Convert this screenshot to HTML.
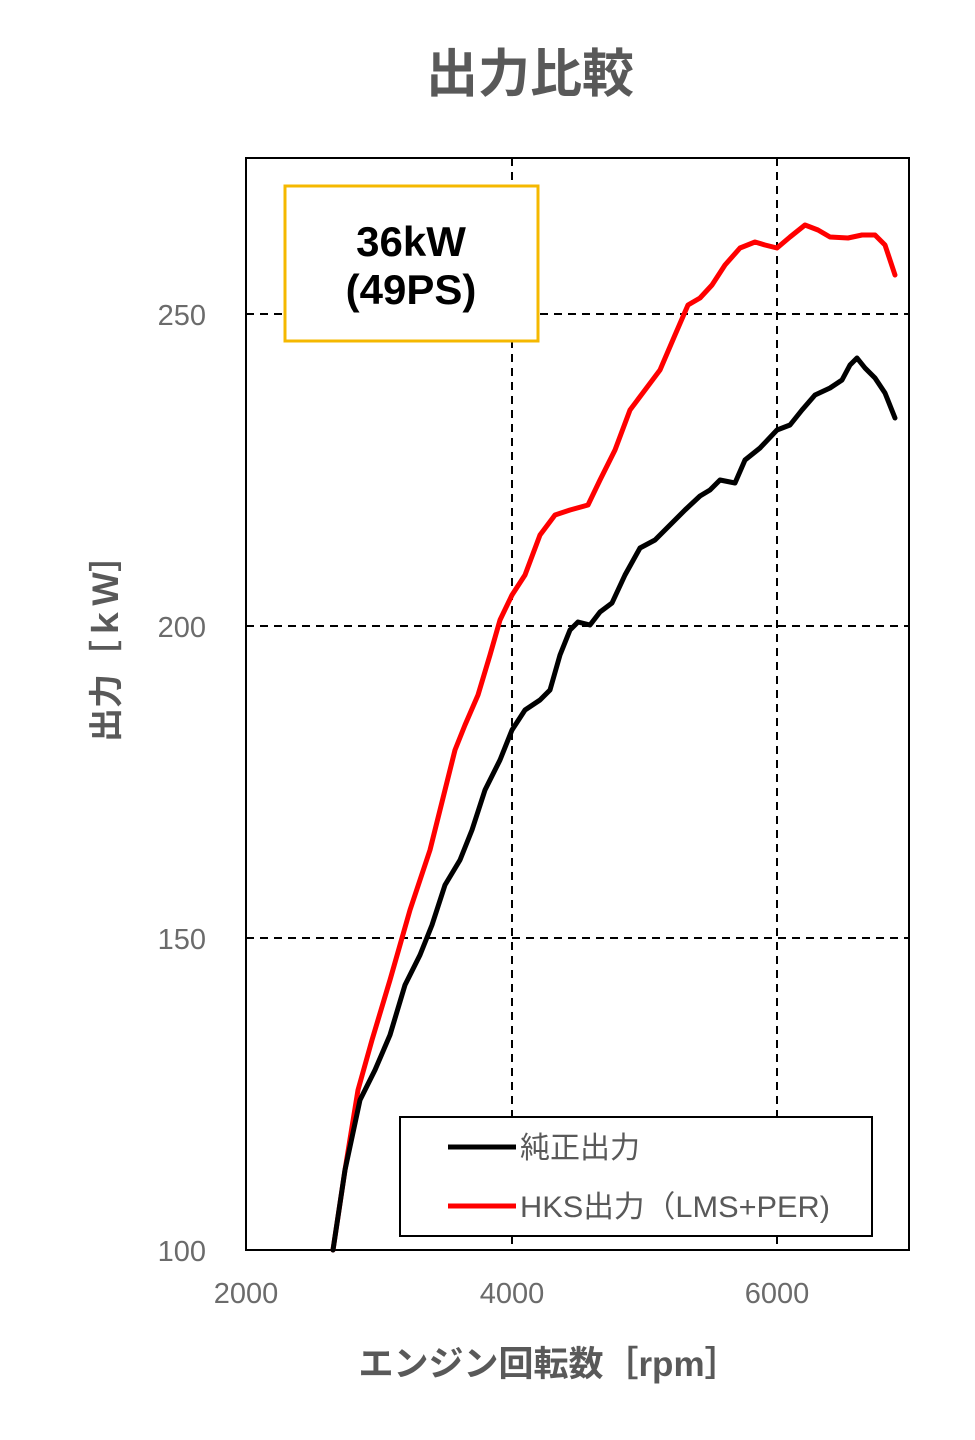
<!DOCTYPE html>
<html><head><meta charset="utf-8"><style>body{margin:0;background:#fff}svg{display:block}</style></head><body>
<svg width="975" height="1440" xmlns="http://www.w3.org/2000/svg" font-family="'Liberation Sans','Noto Sans CJK JP',sans-serif">
<rect width="975" height="1440" fill="#fff"/>
<text x="530" y="92" font-size="52" font-weight="bold" fill="#595959" text-anchor="middle">出力比較</text>
<g stroke="#000" stroke-width="2" stroke-dasharray="8,6">
<line x1="246" y1="314" x2="909" y2="314"/><line x1="246" y1="626" x2="909" y2="626"/><line x1="246" y1="938" x2="909" y2="938"/>
<line x1="512" y1="158" x2="512" y2="1250"/><line x1="777" y1="158" x2="777" y2="1250"/>
</g>
<rect x="246" y="158" width="663" height="1092" fill="none" stroke="#000" stroke-width="2"/>
<g font-size="29" fill="#6b6b6b">
<text x="206" y="325" text-anchor="end">250</text><text x="206" y="637" text-anchor="end">200</text><text x="206" y="949" text-anchor="end">150</text><text x="206" y="1261" text-anchor="end">100</text>
<text x="246" y="1303" text-anchor="middle">2000</text><text x="512" y="1303" text-anchor="middle">4000</text><text x="777" y="1303" text-anchor="middle">6000</text>
</g>
<text x="549" y="1376" font-size="35" font-weight="bold" fill="#595959" text-anchor="middle">エンジン回転数［rpm］</text>
<text transform="translate(118,640) rotate(-90)" font-size="34" font-weight="bold" fill="#595959" text-anchor="middle">出力［ｋＷ］</text>
<polyline fill="none" stroke="#ff0000" stroke-width="5" stroke-linejoin="round" stroke-linecap="round" points="333,1250 345,1170 358,1090 372,1040 390,980 410,910 430,850 445,790 455,750 465,725 478,695 490,655 500,620 512,595 525,575 540,535 555,515 570,510 588,505 600,480 615,450 630,410 645,390 660,370 675,335 688,305 700,298 712,285 725,265 740,248 755,242 765,245 777,248 790,237 805,225 818,230 830,237 848,238 862,235 875,235 885,245 895,275"/>
<polyline fill="none" stroke="#000" stroke-width="5" stroke-linejoin="round" stroke-linecap="round" points="333,1250 345,1170 360,1100 375,1070 390,1035 405,985 420,955 432,925 445,885 460,860 472,830 485,790 500,760 512,730 525,710 540,700 550,690 560,655 570,630 578,622 590,625 600,612 612,603 625,575 640,548 655,540 670,525 685,510 700,496 710,490 720,480 735,483 745,460 760,448 777,430 790,425 802,410 815,395 830,388 842,380 850,365 857,358 865,368 875,378 885,393 895,418"/>
<rect x="285" y="186" width="253" height="155" fill="#fff" stroke="#f5b800" stroke-width="3"/>
<text x="411" y="256" font-size="42" font-weight="bold" text-anchor="middle">36kW</text>
<text x="411" y="304" font-size="42" font-weight="bold" text-anchor="middle">(49PS)</text>
<rect x="400" y="1117" width="472" height="119" fill="#fff" stroke="#000" stroke-width="2"/>
<line x1="448" y1="1147" x2="516" y2="1147" stroke="#000" stroke-width="5"/>
<line x1="448" y1="1206" x2="516" y2="1206" stroke="#ff0000" stroke-width="5"/>
<g font-size="30" fill="#595959"><text x="520" y="1158">純正出力</text><text x="520" y="1217" textLength="310" lengthAdjust="spacingAndGlyphs">HKS出力（LMS+PER)</text></g>
</svg>
</body></html>
